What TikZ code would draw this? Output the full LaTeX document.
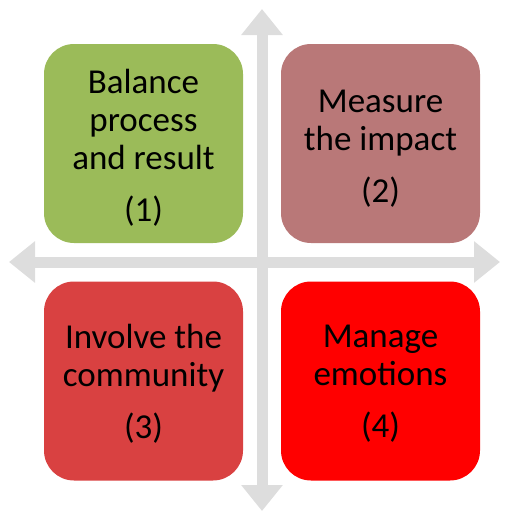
\documentclass[tikz,border=0pt]{standalone}
\usepackage{fontspec}
\setmainfont{Carlito}
\usetikzlibrary{arrows.meta}
\definecolor{boxgreen}{HTML}{9BBB59}
\definecolor{boxbrown}{HTML}{B97878}
\definecolor{boxred}{HTML}{D94141}
\definecolor{boxbright}{HTML}{FF0000}
\definecolor{crossgray}{HTML}{DDDDDD}
\tikzset{
  quad/.style={rounded corners=30pt, minimum width=199pt, minimum height=199pt, inner sep=0pt},
  quadtext/.style={align=center, font=\fontsize{35}{38}\selectfont},
  crossarrow/.style={line width=11pt, crossgray, {Triangle[width=40pt,length=26pt]}-{Triangle[width=40pt,length=26pt]}}
}
\begin{document}
\begin{tikzpicture}[x=1pt, y=-1pt]
    \useasboundingbox (0,0) rectangle (509,512);
    \coordinate (T) at (262,9);
    \coordinate (B) at (262,511);
    \coordinate (L) at (9,262);
    \coordinate (R) at (500,262);
    \draw[crossarrow] (T) -- (B);
    \draw[crossarrow] (L) -- (R);
    \node[quad, fill=boxgreen] (Q1) at (143.5,143.5) {};
    \node[quad, fill=boxbrown] (Q2) at (380.5,143.5) {};
    \node[quad, fill=boxred] (Q3) at (143.5,381) {};
    \node[quad, fill=boxbright] (Q4) at (380.5,381) {};
    \node[quadtext] (T1) at (143.5,148) {Balance\\process\\and result\\[14pt](1)};
    \node[quadtext] (T2) at (380.5,149) {Measure\\the impact\\[14pt](2)};
    \node[quadtext] (T3) at (143.5,384) {Involve the\\community\\[14pt](3)};
    \node[quadtext] (T4) at (380.5,384) {Manage\\emotions\\[14pt](4)};
\end{tikzpicture}
\end{document}
